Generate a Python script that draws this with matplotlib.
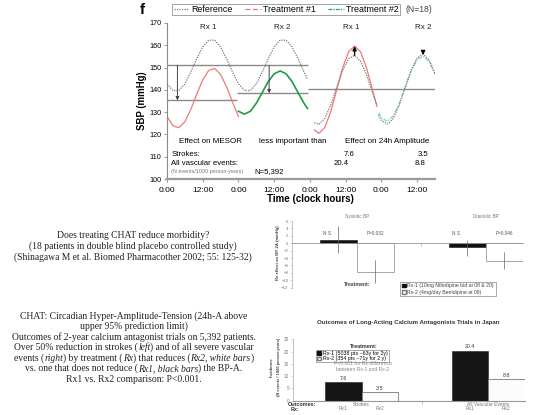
import matplotlib
matplotlib.use("Agg")
import matplotlib.pyplot as plt
from matplotlib.lines import Line2D
from matplotlib.patches import Patch

plt.rcParams["font.family"] = ["Liberation Sans", "DejaVu Sans"]

# ---- panel f: SBP profiles (mmHg), read about every 2 h off the picture ----
ref_hours = [0, 2, 4, 6, 8, 10, 12, 14, 16, 18, 20, 22, 24,
             26, 28, 30, 32, 34, 36, 38, 40, 42, 44, 46, 47.2]
ref_sbp = [142.7, 139.7, 139.7, 142.7, 148.0, 154.0, 159.3, 162.3, 162.3,
           159.3, 154.0, 148.0, 142.7, 139.7, 139.7, 142.7, 148.0, 154.0,
           159.3, 162.3, 162.3, 159.3, 154.0, 148.0, 144.6]

rx1_hours = [0, 2, 4, 6, 8, 10, 12, 14, 16, 18, 20, 22, 24]
rx1_sbp = [128.1, 123.9, 123.0, 125.7, 131.2, 138.1, 144.5, 148.7, 149.6,
           146.9, 141.4, 134.5, 128.1]

rx2_hours = [24, 26, 28, 30, 32, 34, 36, 38, 40, 42, 44, 46, 47.2]
rx2_sbp = [130.4, 129.1, 130.4, 134.0, 138.8, 143.7, 147.2, 148.5, 147.2,
           143.7, 138.8, 134.0, 131.6]

amp1_hours = [49.5, 51, 53, 55, 57, 59, 61, 63, 65, 67, 69, 70.5]
amp1_ref = [125.3, 124.5, 127.2, 133.3, 141.2, 148.8, 154.0, 155.5, 152.8,
            146.7, 138.8, 133.0]
amp1_rx1 = [122.0, 120.5, 123.1, 130.3, 140.1, 149.9, 157.1, 159.7, 157.1,
            149.9, 140.1, 132.6]

amp2_hours = [71, 72, 74, 76, 78, 80, 82, 84, 86, 88, 90]
amp2_ref = [128.6, 126.3, 124.6, 127.1, 133.2, 141.1, 148.9, 154.3, 156.0,
            153.5, 147.4]
amp2_rx2 = [129.7, 127.5, 125.9, 128.3, 133.9, 141.3, 148.5, 153.5, 155.1,
            152.7, 147.1]

# MESOR reference levels: (level, from hour, to hour)
mesor_lines = [(151.0, 0, 47.2), (135.3, 0, 23.5), (138.5, 23.5, 47.2),
               (140.3, 47.2, 90)]

tick_hours = [0, 12, 24, 36, 48, 60, 72, 84]
tick_labels = ["0:00", "12:00"] * 4
rx_labels = ["Rx 1", "Rx 2", "Rx 1", "Rx 2"]
rx_label_hours = [14, 38.8, 61.8, 86]
strokes_vals = ["7.6", "3.5"]
vascular_vals = ["20.4", "8.8"]

# ---- BP effect panel (mmHg) ----
bp_groups = ["Systolic BP", "Diastolic BP"]
bp_rx1 = [1.0, -1.1]
bp_rx1_hi = [4.7, 1.0]
bp_rx1_lo = [-2.6, -3.4]
bp_rx2 = [-7.7, -4.7]
bp_rx2_hi = [-4.5, -2.5]
bp_rx2_lo = [-10.8, -6.9]
bp_rx1_sig = ["N S", "N S"]
bp_rx2_sig = ["P=0.032", "P=0.046"]

# ---- outcomes panel (N events / 1000 person-years) ----
outcomes = ["Strokes", "All Vascular Events"]
inc_rx1 = [7.6, 20.4]
inc_rx2 = [3.5, 8.8]

W, H = 553, 415


def fx(px):
    return px / W


def fy(py):
    return 1 - py / H


fig = plt.figure(figsize=(5.53, 4.15), dpi=100)
renderer = fig.canvas.get_renderer()


def rich_line(xc, y, parts, **kw):
    """Centered line made of (text, fontstyle) pieces placed side by side."""
    texts = [fig.text(0, y, s, fontstyle=st, ha="left", va="center", **kw)
             for s, st in parts]
    widths = [t.get_window_extent(renderer).width / W for t in texts]
    x = xc - sum(widths) / 2
    for t, w in zip(texts, widths):
        t.set_x(x)
        x += w


# ================= panel f =================
ax = fig.add_axes([fx(167), fy(179), fx(435) - fx(167), fy(23) - fy(179)])
ax.set_xlim(0, 90)
ax.set_ylim(100, 170)
for lev, a, b in mesor_lines:
    ax.hlines(lev, a, b, color="#8a8a8a", lw=1.0, zorder=1)

ref_kw = dict(color="#7a7a7a", ls=(0, (1, 1)), lw=0.9, zorder=3)
ax.plot(ref_hours, ref_sbp, **ref_kw)
ax.plot(rx1_hours, rx1_sbp, color="#f07a74", lw=0.9, zorder=2)
ax.plot(rx2_hours, rx2_sbp, color="#1f9a45", lw=1.2, zorder=2)
ax.plot(amp1_hours, amp1_rx1, color="#f07a74", lw=0.9, zorder=2)
ax.plot(amp1_hours, amp1_ref, **ref_kw)
ax.plot(amp2_hours, amp2_rx2, color="#8fd6bd", lw=1.0, ls=(0, (3, 1, 1, 1)), zorder=2)
ax.plot(amp2_hours, amp2_ref, **ref_kw)

arr_kw = dict(arrowstyle="-|>", color="#444444", lw=0.7, mutation_scale=5,
              shrinkA=0, shrinkB=0)
ax.annotate("", xy=(3.5, mesor_lines[1][0]), xytext=(3.5, mesor_lines[0][0]),
            arrowprops=arr_kw)
ax.annotate("", xy=(34.3, mesor_lines[2][0]), xytext=(34.3, mesor_lines[0][0]),
            arrowprops=arr_kw)
blk = dict(arrowstyle="-|>", color="black", lw=0.9, mutation_scale=6,
           shrinkA=0, shrinkB=0)
ax.annotate("", xy=(63, 159.6), xytext=(63, 155.5), arrowprops=blk)
ax.annotate("", xy=(86, 155.6), xytext=(86, 157.4), arrowprops=blk)

for h, lab in zip(rx_label_hours, rx_labels):
    ax.text(h, 168, lab, ha="center", va="center", fontsize=5.8, color="#222")
ax.text(14.7, 117, "Effect on MESOR", ha="center", va="center", fontsize=5.8)
ax.text(42.2, 117, "less important than", ha="center", va="center", fontsize=5.8)
ax.text(73.8, 117, "Effect on 24h Amplitude", ha="center", va="center", fontsize=5.8)
ax.text(1.5, 110.8, "Strokes:", ha="left", va="center", fontsize=5.6)
ax.text(1.5, 107.0, "All vascular events:", ha="left", va="center", fontsize=5.6)
ax.text(1.5, 103.3, "(N events/1000 person-years)", ha="left", va="center",
        fontsize=3.9, color="#777")
ax.text(29.3, 103.4, "N=5,392", ha="left", va="center", fontsize=5.6)
ax.text(61, 110.8, strokes_vals[0], ha="center", va="center", fontsize=5.6)
ax.text(86, 110.8, strokes_vals[1], ha="center", va="center", fontsize=5.6)
ax.text(58.5, 107.0, vascular_vals[0], ha="center", va="center", fontsize=5.6)
ax.text(85, 107.0, vascular_vals[1], ha="center", va="center", fontsize=5.6)

for s in ["top", "right"]:
    ax.spines[s].set_visible(False)
ax.spines["left"].set_color("#8a8a8a")
ax.spines["left"].set_linewidth(0.8)
ax.spines["bottom"].set_color("#9a9a9a")
ax.spines["bottom"].set_linewidth(1.6)
ax.set_yticks(range(100, 171, 10))
ax.set_xticks(tick_hours)
ax.set_xticklabels(tick_labels)
ax.tick_params(axis="y", labelsize=5.2, length=2, width=0.6, color="#8a8a8a", pad=2)
ax.tick_params(axis="x", labelsize=6.0, length=2.5, width=0.8, color="#9a9a9a", pad=3)

fig.text(fx(310), fy(199), "Time (clock hours)", ha="center", va="center",
         fontsize=7, fontweight="bold")
fig.text(fx(142), fy(101), "SBP (mmHg)", ha="center", va="center",
         rotation=90, fontsize=6.9, fontweight="bold")
fig.text(fx(142), fy(10), "f", ha="center", va="center", fontsize=11,
         fontweight="bold")

handles = [Line2D([], [], color="#7a7a7a", ls=(0, (1, 1)), lw=0.9),
           Line2D([], [], color="#f07a74", ls=(0, (4, 2)), lw=0.9),
           Line2D([], [], color="#2aa050", ls=(0, (3, 1, 1, 1)), lw=0.9)]
leg = fig.legend(handles, ["Reference", "Treatment #1", "Treatment #2"],
                 loc="upper left", bbox_to_anchor=(fx(172.5), fy(3.5)), ncol=3,
                 fontsize=6.4, frameon=True, fancybox=False, edgecolor="#777",
                 borderpad=0.15, handlelength=1.7, handletextpad=0.3,
                 columnspacing=1.4, borderaxespad=0)
leg.get_frame().set_linewidth(0.6)
fig.text(fx(406), fy(10), "(N=18)", ha="left", va="center", fontsize=6.2, color="#444")

# ================= left text =================
serif = ["Liberation Serif", "DejaVu Serif"]
block1 = ["Does treating CHAT reduce morbidity?",
          "(18 patients in double blind placebo controlled study)",
          "(Shinagawa M et al. Biomed Pharmacother 2002; 55: 125-32)"]
for i, line in enumerate(block1):
    fig.text(fx(133), fy(235 + 11 * i), line, ha="center", va="center",
             fontsize=6.9, family=serif, color="#222")
block2 = [[("CHAT: Circadian Hyper-Amplitude-Tension (24h-A above", "normal")],
          [("upper 95% prediction limit)", "normal")],
          [("Outcomes of 2-year calcium antagonist trials on 5,392 patients.", "normal")],
          [("Over 50% reduction in strokes (", "normal"), ("left", "italic"),
           (") and of all severe vascular", "normal")],
          [("events (", "normal"), ("right", "italic"), (") by treatment (", "normal"),
           ("Rx", "italic"), (") that reduces (", "normal"),
           ("Rx2, white bars", "italic"), (")", "normal")],
          [("vs. one that does not reduce (", "normal"), ("Rx1, black bars", "italic"),
           (") the BP-A.", "normal")],
          [("Rx1 vs. Rx2 comparison: P<0.001.", "normal")]]
for i, parts in enumerate(block2):
    rich_line(fx(134), fy(316 + 10.5 * i), parts, fontsize=6.9, family=serif,
              color="#222")

# ================= BP effect panel =================
bx = fig.add_axes([fx(292.3), fy(287.7), fx(523.3) - fx(292.3), fy(221) - fy(287.7)])
bx.set_xlim(0, 6.23)
bx.set_ylim(-12, 6)
gx = [1.74, 5.22]
x1 = [g - 0.5 for g in gx]
x2 = [g + 0.5 for g in gx]
bx.bar(x1, bp_rx1, width=1.0, color="#111", edgecolor="#111", lw=0.4, zorder=2)
bx.bar(x2, bp_rx2, width=1.0, color="white", edgecolor="#999", lw=0.6, zorder=2)
bx.errorbar(x1, bp_rx1, yerr=[[v - lo for v, lo in zip(bp_rx1, bp_rx1_lo)],
                              [hi - v for v, hi in zip(bp_rx1, bp_rx1_hi)]],
            fmt="none", ecolor="#666", elinewidth=0.5, capsize=0, zorder=3)
bx.errorbar(x2, bp_rx2, yerr=[[v - lo for v, lo in zip(bp_rx2, bp_rx2_lo)],
                              [hi - v for v, hi in zip(bp_rx2, bp_rx2_hi)]],
            fmt="none", ecolor="#666", elinewidth=0.5, capsize=0, zorder=3)
for x, s in zip(x1, bp_rx1_sig):
    bx.text(x - 0.3, 2.5, s, ha="center", va="center", fontsize=3.4, color="#555")
for x, s in zip(x2, bp_rx2_sig):
    bx.text(x, 2.5, s, ha="center", va="center", fontsize=3.4, color="#555")
for g, name in zip(gx, bp_groups):
    bx.text(g, 7.2, name, ha="center", va="center", fontsize=3.4, color="#777",
            clip_on=False)
for s in ["top", "right"]:
    bx.spines[s].set_visible(False)
bx.spines["left"].set_color("#aaa")
bx.spines["left"].set_linewidth(0.5)
bx.spines["bottom"].set_position(("data", 0))
bx.spines["bottom"].set_color("#999")
bx.spines["bottom"].set_linewidth(0.6)
bx.set_yticks(range(-12, 7, 2))
bx.set_xticks([3.48])
bx.set_xticklabels([""])
bx.tick_params(axis="y", labelsize=3.1, labelcolor="#777", length=1.5, width=0.4,
               color="#aaa", pad=1.2)
bx.tick_params(axis="x", length=2, width=0.4, color="#999")
fig.text(fx(277.5), fy(253), "Rx effect on BP-2A (mmHg)", ha="center", va="center",
         rotation=90, fontsize=3.1, fontweight="bold", color="#444")
fig.text(fx(356.7), fy(285), "Treatment:", ha="center", va="center", fontsize=3.7,
         fontweight="bold", color="#444")
bleg = bx.legend([Patch(facecolor="#111", edgecolor="#111"),
                  Patch(facecolor="white", edgecolor="#777")],
                 ["Rx-1 (10mg Nifedipine bid at 08 & 20)",
                  "Rx-2 (4mg/day Benidipine at 08)"],
                 loc="upper left", bbox_to_anchor=(fx(400), fy(281.5)),
                 bbox_transform=fig.transFigure, fontsize=3.7, frameon=True,
                 fancybox=False, edgecolor="#666", borderpad=0.35,
                 labelspacing=0.25, handlelength=0.8, handleheight=0.7,
                 handletextpad=0.3, borderaxespad=0)
bleg.get_frame().set_linewidth(0.5)
for t in bleg.get_texts():
    t.set_color("#444")

# ================= outcomes panel =================
cx = fig.add_axes([fx(293.3), fy(400.7), fx(525) - fx(293.3), fy(339.3) - fy(400.7)])
cx.set_xlim(0, 6.35)
cx.set_ylim(0, 25)
cg = [1.87, 5.34]
c1 = [g - 0.5 for g in cg]
c2 = [g + 0.5 for g in cg]
cx.bar(c1, inc_rx1, width=1.0, color="#151515", edgecolor="#333", lw=0.5, zorder=2)
cx.bar(c2, inc_rx2, width=1.0, color="#fcfcfc", edgecolor="#777", lw=0.6, zorder=2)
for x, v in zip(c1 + c2, inc_rx1 + inc_rx2):
    cx.text(x, v + 0.5, f"{v:.1f}", ha="center", va="bottom", fontsize=3.8,
            color="#333")
for s in ["top", "right"]:
    cx.spines[s].set_visible(False)
cx.spines["left"].set_color("#aaa")
cx.spines["left"].set_linewidth(0.5)
cx.spines["bottom"].set_color("#999")
cx.spines["bottom"].set_linewidth(0.8)
cx.set_yticks(range(0, 26, 5))
cx.set_xticks([3.52])
cx.set_xticklabels([""])
cx.tick_params(axis="y", labelsize=3.3, labelcolor="#777", length=1.5, width=0.4,
               color="#aaa", pad=1.5)
cx.tick_params(axis="x", length=2, width=0.4, color="#999")
trans = cx.get_xaxis_transform()
for g, name in zip(cg, outcomes):
    cx.text(g, -0.07, name, transform=trans, ha="center", va="center",
            fontsize=3.5, color="#777")
for x in c1:
    cx.text(x, -0.135, "Rx1", transform=trans, ha="center", va="center",
            fontsize=3.5, color="#777")
for x in c2:
    cx.text(x, -0.135, "Rx2", transform=trans, ha="center", va="center",
            fontsize=3.5, color="#777")
fig.text(fx(301.7), fy(404.3), "Outcomes:", ha="center", va="center", fontsize=3.9,
         fontweight="bold", color="#333")
fig.text(fx(295), fy(409), "Rx:", ha="center", va="center", fontsize=3.9,
         fontweight="bold", color="#333")
fig.text(fx(408.3), fy(322.7), "Outcomes of Long-Acting Calcium Antagonists Trials in Japan",
         ha="center", va="center", fontsize=4.4, fontweight="bold", color="#333")
fig.text(fx(271.7), fy(367), "Incidence", ha="center", va="center", rotation=90,
         fontsize=3.2, fontweight="bold", color="#444")
fig.text(fx(279.3), fy(367), "(N events / 1000 person-years)", ha="center",
         va="center", rotation=90, fontsize=2.9, fontweight="bold", color="#444")
fig.text(fx(363.3), fy(346.5), "Treatment:", ha="center", va="center", fontsize=3.9,
         fontweight="bold", color="#333")
cleg = cx.legend([Patch(facecolor="#111", edgecolor="#111"),
                  Patch(facecolor="white", edgecolor="#777")],
                 ["Rx-1 (5038 pts ~63y for 2y)", "Rx-2 (354 pts ~71y for 2 y)"],
                 loc="upper left", bbox_to_anchor=(fx(316), fy(349.5)),
                 bbox_transform=fig.transFigure, fontsize=3.8, frameon=True,
                 fancybox=False, edgecolor="#666", borderpad=0.2,
                 labelspacing=0.15, handlelength=0.8, handleheight=0.7,
                 handletextpad=0.3, borderaxespad=0)
cleg.get_frame().set_linewidth(0.5)
fig.text(fx(363), fy(366.5), "P<0.001 for Rx difference\nbetween Rx-1 and Rx-2",
         ha="center", va="center", fontsize=3.6, color="#888", linespacing=1.1)

fig.savefig("out.png", dpi=100)
